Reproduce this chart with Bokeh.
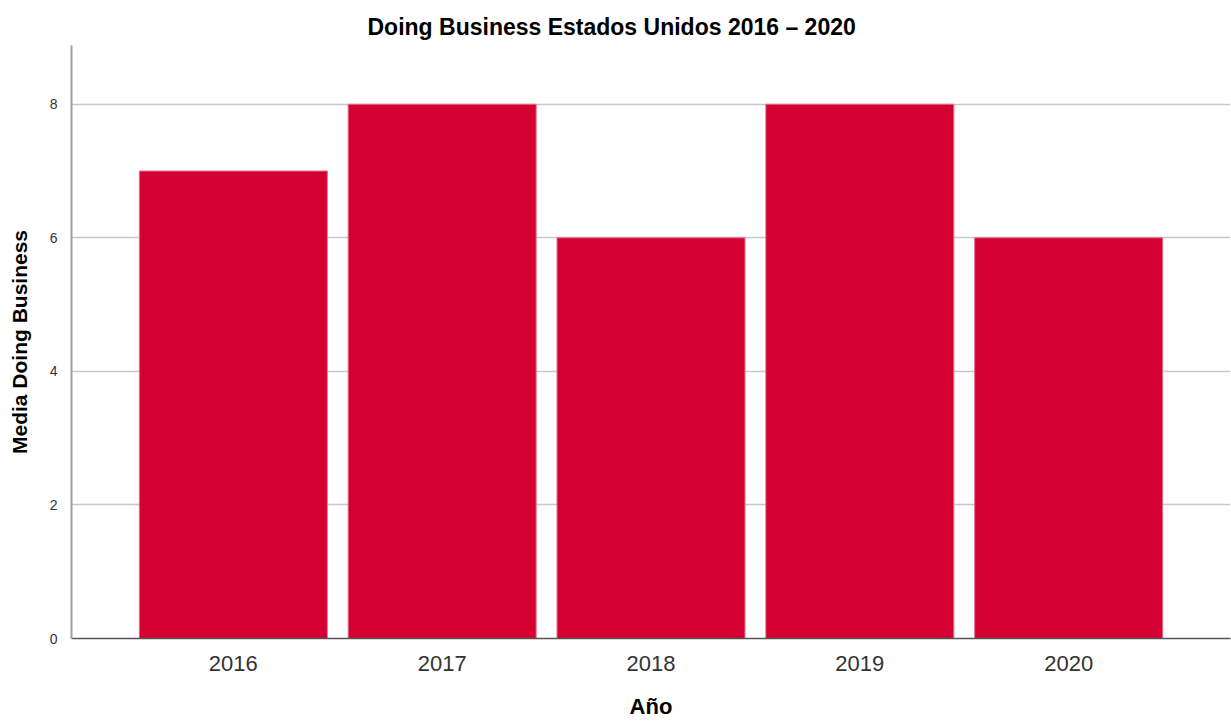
from bokeh.plotting import figure
from bokeh.models import FactorRange, Range1d, FixedTicker, Title
from bokeh.embed import file_html
from bokeh.resources import INLINE

years = ["2016", "2017", "2018", "2019", "2020"]
values = [7, 8, 6, 8, 6]
y_ticks = [0, 2, 4, 6, 8]

FONT = "Liberation Sans"

p = figure(
    x_range=FactorRange(*years, range_padding=0.275, range_padding_units="absolute"),
    y_range=Range1d(0, 8.88),
    width=1231, height=723,
    output_backend="svg", toolbar_location=None,
    min_border_left=71, min_border_right=1, min_border_top=45, min_border_bottom=85,
)

p.vbar(x=years, top=values, width=0.9, fill_color="#D50032", line_color="#E46A86", line_width=1)

p.title = Title(text="Doing Business Estados Unidos 2016 \u2013 2020", align="left",
                text_font=FONT, text_font_size="23px", text_font_style="bold",
                text_color="#000000", offset=296, standoff=11)

p.outline_line_color = None
p.background_fill_color = "white"
p.border_fill_color = "white"

# y axis
p.yaxis.ticker = FixedTicker(ticks=y_ticks)
p.yaxis.major_tick_line_color = None
p.yaxis.minor_tick_line_color = None
p.yaxis.axis_line_color = "#A0A0A0"
p.yaxis.axis_line_width = 2
p.yaxis.major_label_text_font = FONT
p.yaxis.major_label_text_font_size = "14px"
p.yaxis.major_label_text_color = "#333333"
p.yaxis.major_label_standoff = 8
p.yaxis.axis_label = "Media Doing Business"
p.yaxis.axis_label_text_font = FONT
p.yaxis.axis_label_text_font_size = "21px"
p.yaxis.axis_label_text_font_style = "bold"
p.yaxis.axis_label_text_color = "#000000"
p.yaxis.axis_label_standoff = 16

# x axis
p.xaxis.major_tick_line_color = None
p.xaxis.minor_tick_line_color = None
p.xaxis.axis_line_color = "#555555"
p.xaxis.axis_line_width = 1.5
p.xaxis.major_label_text_font = FONT
p.xaxis.major_label_text_font_size = "22px"
p.xaxis.major_label_text_color = "#333333"
p.xaxis.major_label_standoff = 11
p.xaxis.axis_label = "A\u00f1o"
p.xaxis.axis_label_text_font = FONT
p.xaxis.axis_label_text_font_size = "22px"
p.xaxis.axis_label_text_font_style = "bold"
p.xaxis.axis_label_text_color = "#000000"
p.xaxis.axis_label_standoff = 20

p.xgrid.grid_line_color = None
p.ygrid.grid_line_color = "#C8C8C8"
p.ygrid.grid_line_width = 1.5
p.ygrid.level = "underlay"

open("out.html", "w").write(file_html(p, INLINE))
